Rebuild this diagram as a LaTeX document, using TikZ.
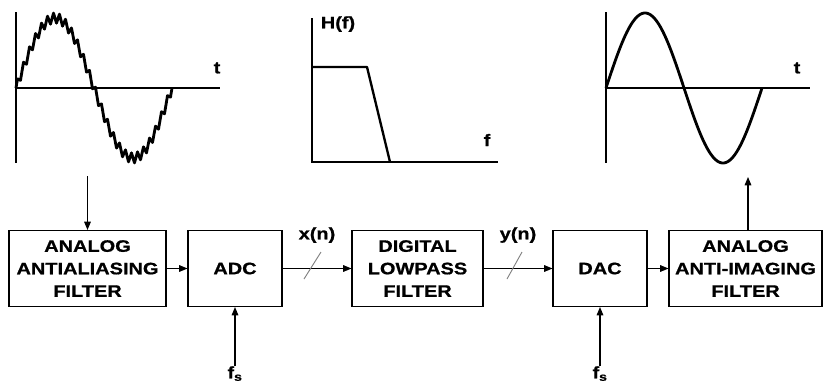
\documentclass[tikz,border=0pt]{standalone}
\usepackage{fontspec}
\setmainfont{Liberation Sans}[FakeStretch=1.2, BoldFeatures={FakeBold=0.8}]
\usetikzlibrary{arrows.meta,positioning}

\begin{document}
\begin{tikzpicture}[
  x=0.03cm, y=-0.03cm,
  font=\fontsize{14.2}{19.2}\selectfont\bfseries,
  blk/.style={draw, line width=0.9pt, align=center, inner sep=2pt,
              minimum height=22.8mm},
  ar/.style={-{Triangle[length=2.5mm,width=2mm]}, line width=0.9pt},
  axis/.style={line width=0.9pt},
  wave/.style={line width=2.4pt, line join=round},
  lbl/.style={inner sep=0pt}
]
\useasboundingbox (0,0) rectangle (823,389);
% noisy input signal
\draw[axis] (16,12) -- (16,163);
\draw[axis] (16,88) -- (220,88);
\node[lbl] (t1) at (217,68) {t};
\draw[wave] (16,88) -- plot[domain=3.4615:356.5385, samples=52]
  ({16+\x/360*156}, {88-70*sin(\x)-5*sin(26*\x)}) -- (172,88);
% lowpass response
\draw[axis] (312,18) -- (312,162) -- (498,162);
\node[lbl] (hf) at (338,24) {H(f)};
\node[lbl] (f) at (487,140) {f};
\draw[wave, line width=2pt] (312,67) -- (367,67) -- (390,162);
% clean output signal
\draw[axis] (606,12) -- (606,163);
\draw[axis] (606,88) -- (810,88);
\node[lbl] (t2) at (797,68) {t};
\draw[wave] plot[domain=0:360, samples=181]
  ({606+\x/360*156}, {88-75*sin(\x)});
% blocks
\node[blk, minimum width=47.1mm] (aaf) at (87.5,268.5) {ANALOG\\ANTIALIASING\\FILTER};
\node[blk, minimum width=28.2mm] (adc) at (235,268.5)  {ADC};
\node[blk, minimum width=39.3mm] (dlp) at (417.5,268.5) {DIGITAL\\LOWPASS\\FILTER};
\node[blk, minimum width=28.2mm] (dac) at (600,268.5)  {DAC};
\node[blk, minimum width=45.9mm] (aif) at (745.5,268.5) {ANALOG\\ANTI-IMAGING\\FILTER};
% labels
\node[lbl] (xn) at (317,235) {x(n)};
\node[lbl] (yn) at (518,235) {y(n)};
\node[lbl, anchor=north] (fs1) at (235,366) {f\textsubscript{s}};
\node[lbl, anchor=north] (fs2) at (600,366) {f\textsubscript{s}};
\coordinate (in) at (87.5,176);
\coordinate (out) at (748,177);
% arrows
\draw[ar] (in) -- (aaf.north);
\draw[ar] (aaf) -- (adc);
\draw[ar] (adc) -- (dlp);
\draw[ar] (dlp) -- (dac);
\draw[ar] (dac) -- (aif);
\draw[ar] (aif.north -| out) -- (out);
\draw[ar] (fs1.north) -- (adc.south);
\draw[ar] (fs2.north) -- (dac.south);
% bus slashes
\draw[gray, line width=0.8pt] (304,279) -- (321,252);
\draw[gray, line width=0.8pt] (507,279) -- (522,252);
\end{tikzpicture}
\end{document}
